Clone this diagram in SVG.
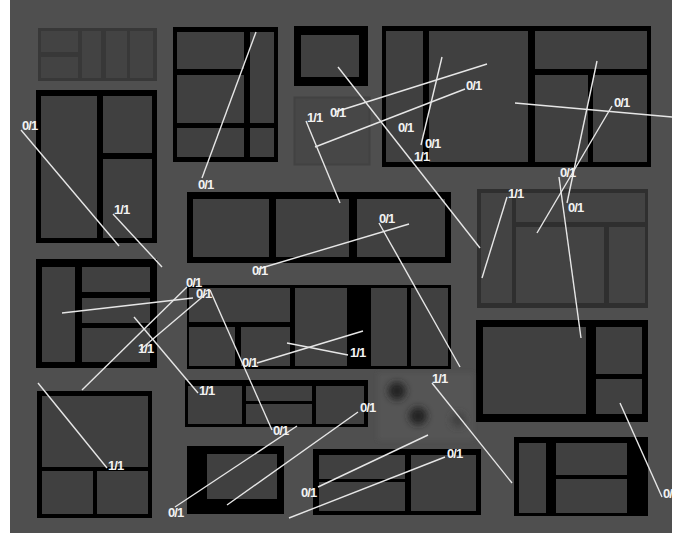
<svg xmlns="http://www.w3.org/2000/svg" width="683" height="533" viewBox="0 0 683 533">
<style>
.fr{fill:#000}
.c{fill:#404040}
.fg{fill:#383838}
.cg{fill:#434343}
.ln{stroke:#e6e6e6;stroke-width:1.4;fill:none}
.lb{font-family:"Liberation Sans",Arial,sans-serif;font-weight:bold;font-size:13px;fill:#f2f2f2;letter-spacing:-0.9px}
</style>
<defs>
<clipPath id="clip"><rect x="10" y="0" width="662" height="533"/></clipPath>
<filter id="blur" x="-50%" y="-50%" width="200%" height="200%"><feGaussianBlur stdDeviation="3.5"/></filter>
<filter id="blur2" x="-10%" y="-10%" width="120%" height="120%"><feGaussianBlur stdDeviation="2"/></filter>
</defs>
<rect x="0" y="0" width="683" height="533" fill="#ffffff"/>
<rect x="10" y="0" width="662" height="533" fill="#4f4f4f"/>
<g clip-path="url(#clip)">
<g id="blockA">
<rect class="fg" x="38" y="28" width="119" height="53"/>
<rect class="cg" x="41" y="31" width="37" height="21"/>
<rect class="cg" x="41" y="57" width="37" height="21"/>
<rect class="cg" x="82" y="31" width="19" height="47"/>
<rect class="cg" x="106" y="31" width="21" height="47"/>
<rect class="cg" x="130" y="31" width="23" height="47"/>
</g>
<g id="blockB">
<rect class="fr" x="36" y="90" width="121" height="153"/>
<rect class="c" x="41" y="96" width="56" height="142"/>
<rect class="c" x="103" y="96" width="49" height="57"/>
<rect class="c" x="103" y="159" width="49" height="79"/>
</g>
<g id="blockC">
<rect class="fr" x="173" y="27" width="105" height="135"/>
<rect class="c" x="177" y="32" width="67" height="37"/>
<rect class="c" x="177" y="75" width="67" height="48"/>
<rect class="c" x="177" y="128" width="67" height="29"/>
<rect class="c" x="250" y="32" width="24" height="91"/>
<rect class="c" x="250" y="128" width="24" height="29"/>
</g>
<g id="blockD">
<rect class="fr" x="294" y="26" width="74" height="60"/>
<rect class="c" x="301" y="35" width="58" height="42"/>
</g>
<g id="blockE">
<rect x="294.5" y="97.5" width="75" height="67" fill="#474747" stroke="#424242" stroke-width="2"/>
</g>
<g id="blockF">
<rect class="fr" x="382" y="26" width="269" height="141"/>
<rect class="c" x="386" y="31" width="37" height="131"/>
<rect class="c" x="429" y="31" width="99" height="131"/>
<rect class="c" x="535" y="31" width="112" height="38"/>
<rect class="c" x="535" y="75" width="53" height="87"/>
<rect class="c" x="593" y="75" width="54" height="87"/>
</g>
<g id="blockG">
<rect class="fr" x="187" y="192" width="264" height="71"/>
<rect class="c" x="193" y="199" width="76" height="58"/>
<rect class="c" x="276" y="199" width="73" height="58"/>
<rect class="c" x="357" y="199" width="88" height="58"/>
</g>
<g id="blockH">
<rect class="fr" x="187" y="285" width="264" height="84"/>
<rect class="c" x="189" y="288" width="101" height="34"/>
<rect class="c" x="189" y="327" width="46" height="39"/>
<rect class="c" x="241" y="327" width="49" height="39"/>
<rect class="c" x="295" y="288" width="52" height="78"/>
<rect class="c" x="371" y="288" width="36" height="78"/>
<rect class="c" x="411" y="288" width="37" height="78"/>
</g>
<g id="blockI">
<rect class="fr" x="36" y="259" width="121" height="109"/>
<rect class="c" x="42" y="267" width="33" height="95"/>
<rect class="c" x="82" y="267" width="68" height="25"/>
<rect class="c" x="82" y="298" width="68" height="25"/>
<rect class="c" x="82" y="328" width="68" height="34"/>
</g>
<g id="blockJ">
<rect x="477" y="189" width="171" height="119" fill="#2f2f2f"/>
<rect class="cg" x="481" y="193" width="31" height="110"/>
<rect class="cg" x="516" y="193" width="129" height="29"/>
<rect class="cg" x="516" y="227" width="88" height="76"/>
<rect class="cg" x="609" y="227" width="36" height="76"/>
</g>
<g id="blockK">
<rect class="fr" x="476" y="320" width="172" height="102"/>
<rect class="c" x="483" y="327" width="103" height="87"/>
<rect class="c" x="596" y="327" width="46" height="47"/>
<rect class="c" x="596" y="379" width="46" height="35"/>
</g>
<g id="blockL">
<rect class="fr" x="514" y="437" width="134" height="79"/>
<rect class="c" x="519" y="443" width="27" height="70"/>
<rect class="c" x="556" y="443" width="71" height="32"/>
<rect class="c" x="556" y="479" width="71" height="34"/>
</g>
<g id="blockM">
<rect class="fr" x="37" y="391" width="115" height="127"/>
<rect class="c" x="42" y="396" width="106" height="71"/>
<rect class="c" x="42" y="471" width="51" height="43"/>
<rect class="c" x="97" y="471" width="51" height="43"/>
</g>
<g id="blockN">
<rect class="fr" x="185" y="380" width="183" height="47"/>
<rect class="c" x="188" y="386" width="54" height="38"/>
<rect class="c" x="246" y="386" width="66" height="15"/>
<rect class="c" x="246" y="404" width="66" height="20"/>
<rect class="c" x="316" y="386" width="48" height="38"/>
</g>
<g id="blockO">
<rect class="fr" x="187" y="446" width="97" height="68"/>
<rect class="c" x="207" y="454" width="70" height="45"/>
</g>
<g id="blockP">
<rect class="fr" x="313" y="449" width="168" height="66"/>
<rect class="c" x="319" y="455" width="86" height="24"/>
<rect class="c" x="319" y="482" width="86" height="29"/>
<rect class="c" x="411" y="455" width="65" height="56"/>
</g>
<g id="blockQ">
<rect x="378" y="373" width="95" height="67" fill="#555555" filter="url(#blur2)"/>
<circle cx="397" cy="391" r="9" fill="#222222" filter="url(#blur)"/>
<circle cx="418" cy="416" r="9" fill="#222222" filter="url(#blur)"/>
<circle cx="458" cy="420" r="7" fill="#404040" filter="url(#blur)"/>
</g>
<g id="connectors" class="ln">
<line x1="21" y1="130" x2="119" y2="246"/>
<line x1="113" y1="214" x2="162" y2="267"/>
<line x1="256" y1="32" x2="202" y2="178"/>
<line x1="338" y1="67" x2="480" y2="248"/>
<line x1="335" y1="112" x2="487" y2="64"/>
<line x1="315" y1="147" x2="465" y2="89"/>
<line x1="442" y1="57" x2="421" y2="145"/>
<line x1="306" y1="121" x2="340" y2="203"/>
<line x1="612" y1="106" x2="537" y2="233"/>
<line x1="597" y1="61" x2="567" y2="203"/>
<line x1="559" y1="177" x2="581" y2="338"/>
<line x1="515" y1="103" x2="672" y2="117"/>
<line x1="507" y1="197" x2="482" y2="278"/>
<line x1="258" y1="269" x2="409" y2="224"/>
<line x1="379" y1="223" x2="460" y2="367"/>
<line x1="62" y1="313" x2="193" y2="298"/>
<line x1="187" y1="287" x2="82" y2="390"/>
<line x1="207" y1="293" x2="140" y2="350"/>
<line x1="134" y1="317" x2="198" y2="393"/>
<line x1="210" y1="290" x2="272" y2="430"/>
<line x1="257" y1="363" x2="363" y2="331"/>
<line x1="287" y1="343" x2="348" y2="355"/>
<line x1="38" y1="383" x2="107" y2="468"/>
<line x1="297" y1="426" x2="175" y2="507"/>
<line x1="358" y1="412" x2="227" y2="505"/>
<line x1="428" y1="435" x2="318" y2="487"/>
<line x1="445" y1="457" x2="289" y2="518"/>
<line x1="432" y1="383" x2="512" y2="483"/>
<line x1="620" y1="403" x2="662" y2="497"/>
</g>
<g id="labels" class="lb">
<text x="22" y="130">0/1</text>
<text x="114" y="214">1/1</text>
<text x="198" y="189">0/1</text>
<text x="307" y="122">1/1</text>
<text x="330" y="117">0/1</text>
<text x="466" y="90">0/1</text>
<text x="398" y="132">0/1</text>
<text x="425" y="148">0/1</text>
<text x="414" y="161">1/1</text>
<text x="614" y="107">0/1</text>
<text x="560" y="177">0/1</text>
<text x="568" y="212">0/1</text>
<text x="508" y="198">1/1</text>
<text x="379" y="223">0/1</text>
<text x="252" y="275">0/1</text>
<text x="186" y="287">0/1</text>
<text x="196" y="298">0/1</text>
<text x="138" y="353">1/1</text>
<text x="242" y="367">0/1</text>
<text x="350" y="357">1/1</text>
<text x="199" y="395">1/1</text>
<text x="432" y="383">1/1</text>
<text x="273" y="435">0/1</text>
<text x="360" y="412">0/1</text>
<text x="447" y="458">0/1</text>
<text x="301" y="497">0/1</text>
<text x="168" y="517">0/1</text>
<text x="108" y="470">1/1</text>
<text x="663" y="498">0/1</text>
</g>
</g>
</svg>
